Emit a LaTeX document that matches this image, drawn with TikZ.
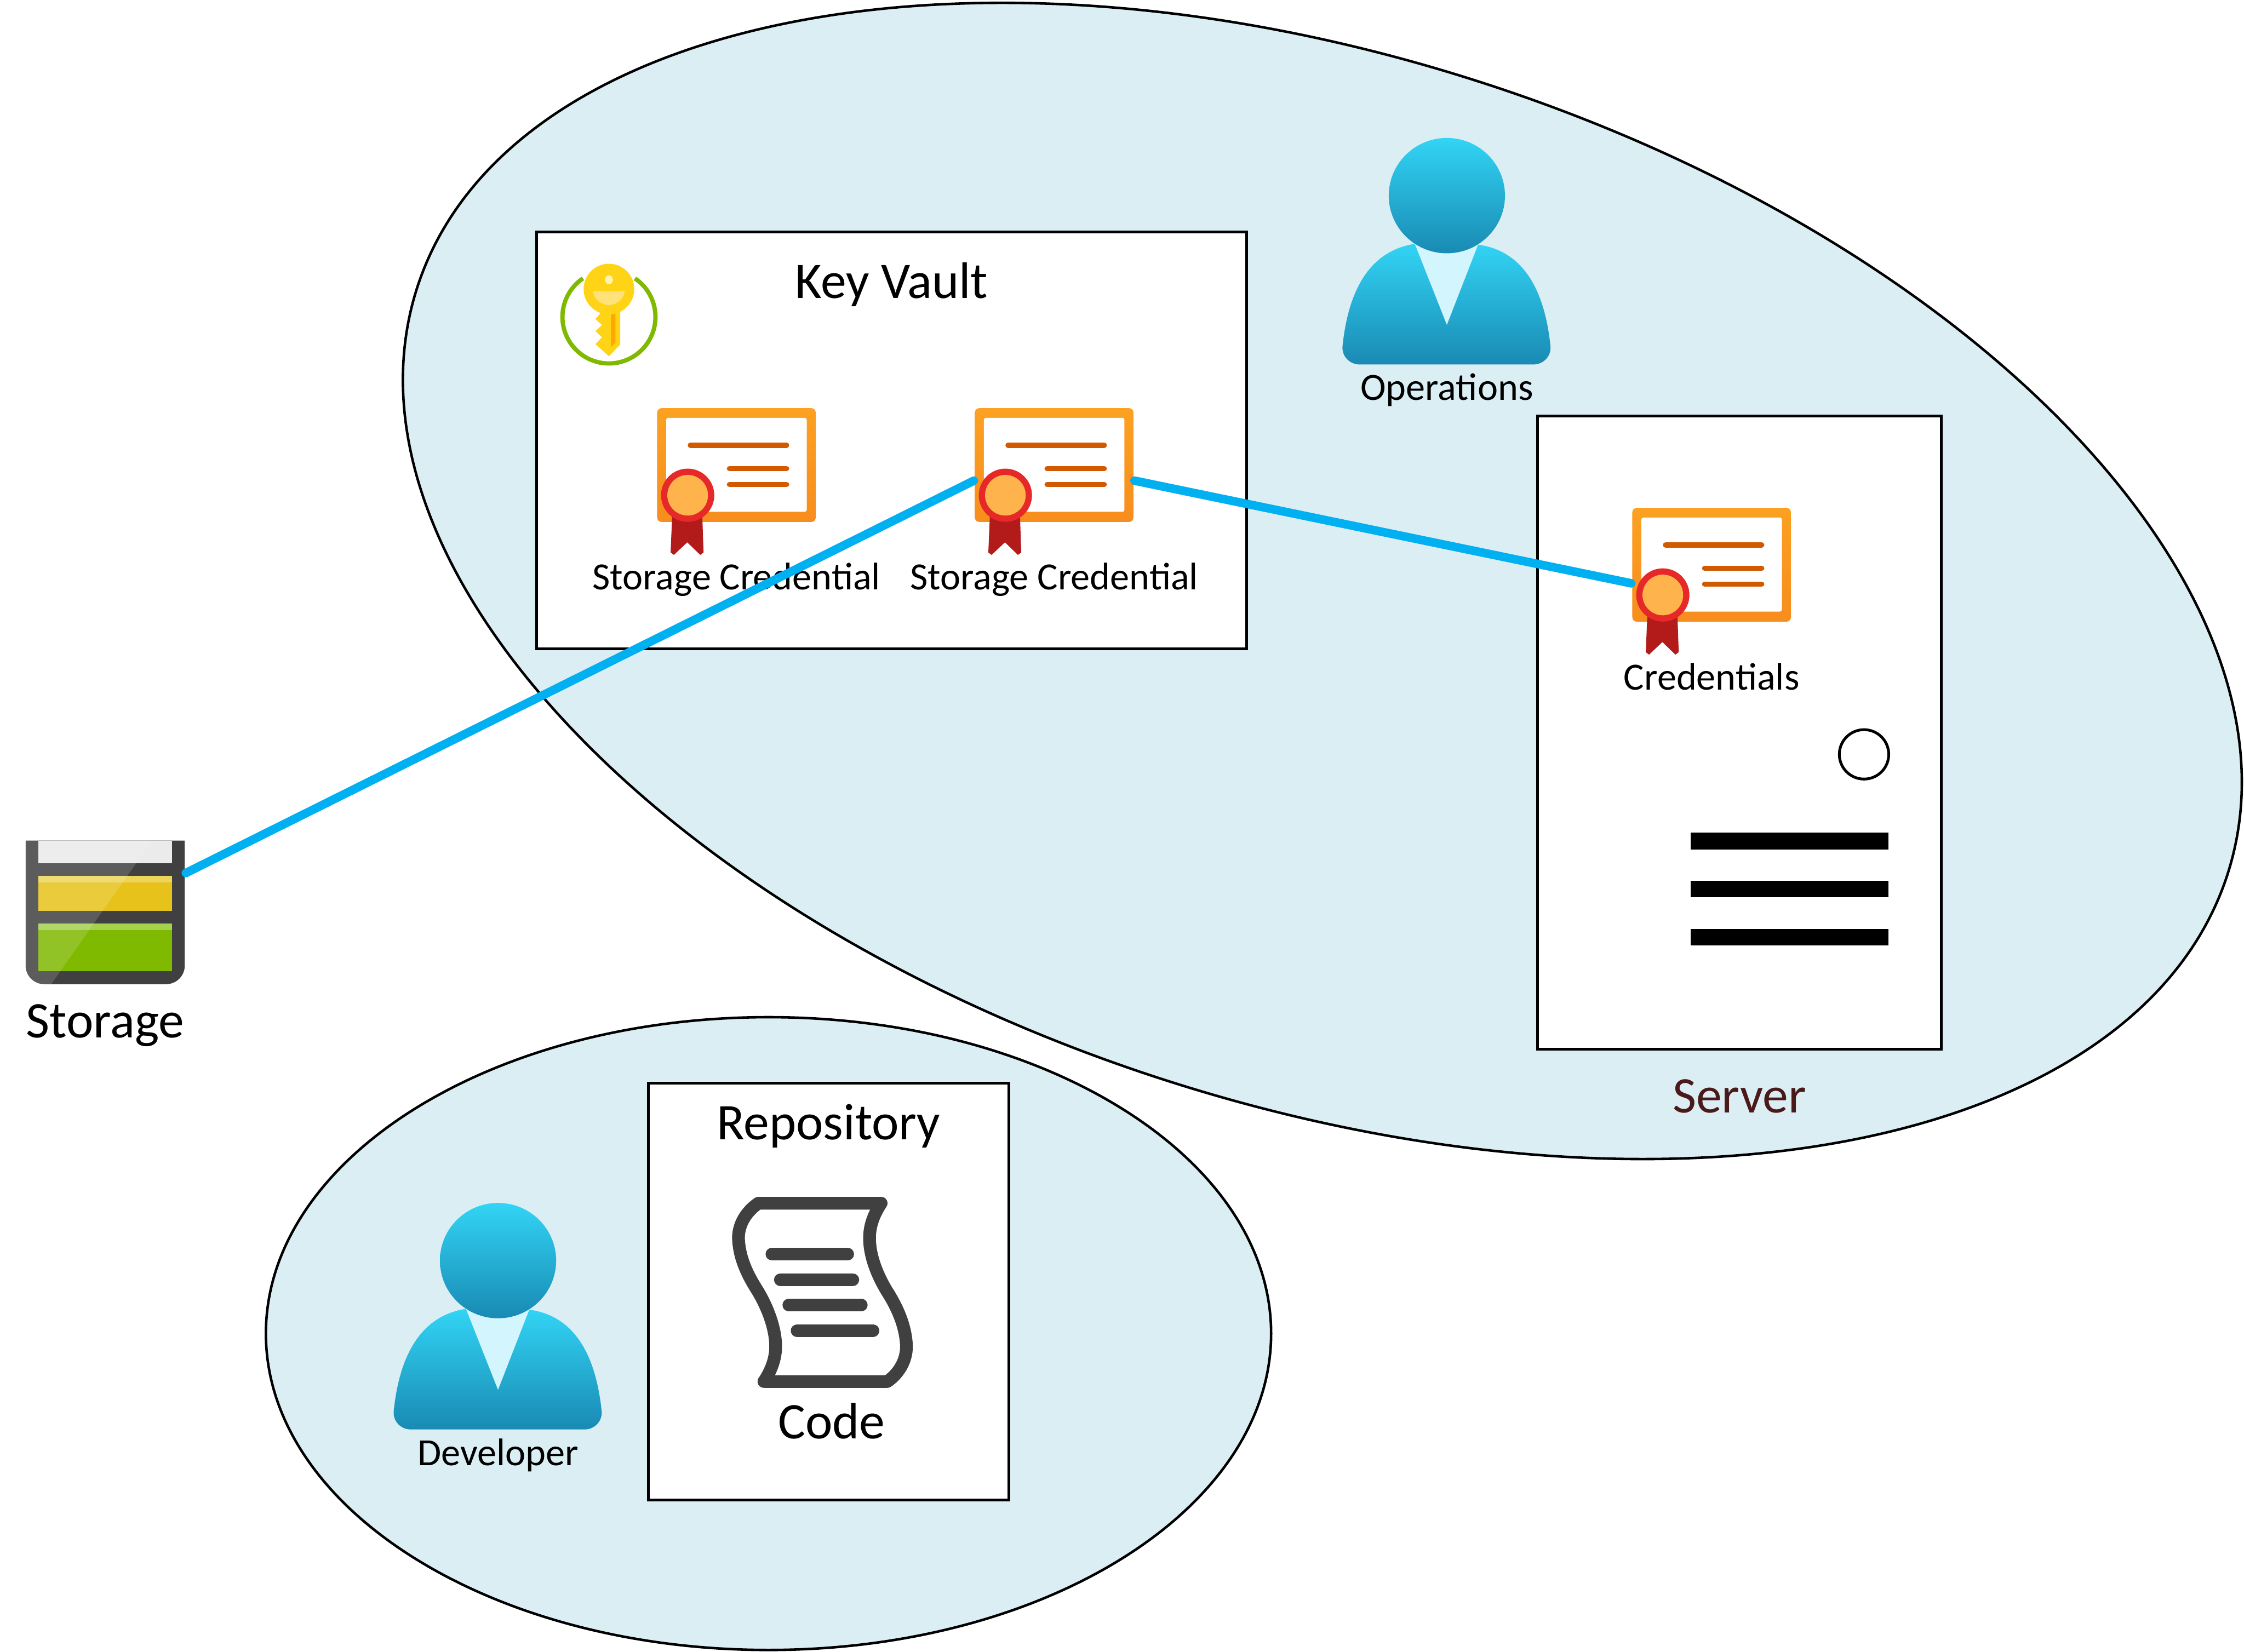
\documentclass[tikz,border=0pt]{standalone}
\usepackage{fontspec}
\setmainfont{Carlito}
\usepackage{tikz}
\usetikzlibrary{
    shapes.geometric
}
\definecolor{zonefill}{HTML}{DBEEF4}
\definecolor{linkblue}{HTML}{00B0F0}
\definecolor{darkgray}{HTML}{404040}
\definecolor{servertext}{HTML}{4A1A1A}
\definecolor{certtop}{HTML}{FCA121}
\definecolor{certbottom}{HTML}{F78D1E}
\definecolor{certline}{HTML}{D15900}
\definecolor{ribbon}{HTML}{B31B1B}
\definecolor{sealring}{HTML}{E62828}
\definecolor{sealfill}{HTML}{FFB34D}
\definecolor{persontop}{HTML}{32D4F5}
\definecolor{personbottom}{HTML}{198AB3}
\definecolor{personneck}{HTML}{D3F5FE}
\definecolor{keyring}{HTML}{7FBA00}
\definecolor{keygold}{HTML}{FFD417}
\definecolor{keystrip}{HTML}{FFA800}
\definecolor{keylight}{HTML}{FFE27A}
\definecolor{keyhole}{HTML}{FFF3B0}
\definecolor{slotgray}{HTML}{EBEBEB}
\definecolor{slotyellow}{HTML}{E6C21B}
\definecolor{slotyellowtop}{HTML}{EDD55C}
\definecolor{slotgreen}{HTML}{7FB900}
\definecolor{slotgreentop}{HTML}{A5D14F}

\begin{document}
\begin{tikzpicture}[
    x=0.01cm,
    y=-0.01cm,
    zone/.style={
        ellipse,
        draw,
        fill=zonefill,
        inner sep=0pt,
        line width=0.5pt
    },
    box/.style={
        rectangle,
        draw,
        fill=white,
        inner sep=0pt,
        line width=0.55pt
    },
    biglabel/.style={
        inner sep=0pt,
        font=\fontsize{10.2}{12}\selectfont
    },
    smalllabel/.style={
        inner sep=0pt,
        font=\fontsize{7.65}{9}\selectfont
    },
    bar/.style={
        rectangle,
        fill=black,
        inner sep=0pt,
        minimum width=1.38cm,
        minimum height=0.115cm
    },
    link/.style={line width=1.7pt, line cap=round, draw=linkblue},
    cert/.pic={
        \node[
            rectangle,
            rounded corners=0.9pt,
            top color=certtop,
            bottom color=certbottom,
            inner sep=0pt,
            minimum width=1.108cm,
            minimum height=0.795cm
        ] (-frame) at (0,0) {};
        \fill[white, rounded corners=0.4pt] (-49.1,-33) rectangle (49.1,32.7);
        \draw[line width=1.05pt, line cap=round, draw=certline]
            (-32.2,-13.9) -- (35,-13.9)
            (-4.9,2.5) -- (35,2.5)
            (-4.9,13.6) -- (35,13.6);
        \fill[ribbon] (-44.9,34.7) -- (-46,61.1) -- (-43.7,62.8) -- (-34.4,54)
            -- (-25.3,62.8) -- (-23,61.1) -- (-23.9,34.7) -- cycle;
        \fill[sealring] (-34.1,21.1) circle[radius=18.6];
        \fill[sealfill] (-34.1,21.1) circle[radius=14.2];
    },
    person/.pic={
        \shade[top color=persontop, bottom color=personbottom]
            (-22.4,33.7) .. controls (-50,38) and (-68,60) .. (-72.8,104.3)
            .. controls (-74,112) and (-68,118) .. (-61,118) -- (60.5,118)
            .. controls (67.5,118) and (73.5,112) .. (72.3,104.3)
            .. controls (67.5,60) and (49.5,38) .. (21.8,34.3) -- cycle;
        \fill[personneck] (-22.4,33.7) -- (0,90.3) -- (21.8,34.3) -- cycle;
        \shade[top color=persontop, bottom color=personbottom]
            (0,0) circle[x radius=40.6, y radius=40.3];
    },
    keyicon/.pic={
        \draw[line width=0.85pt, draw=keyring]
            (0,19.5) ++(-56:32.5) arc[start angle=-56, end angle=236, radius=32.5];
        \fill[keygold] (-5.4,16.3) -- (-9.4,20.9) -- (-4.9,25.2) -- (-9.4,29.4)
            -- (-4.9,33.7) -- (-9.4,38.5) -- (0,47) -- (7.9,38.8) -- (7.9,15.5) -- cycle;
        \fill[keystrip] (1.4,18) -- (4.5,16.7) -- (4.5,37.6) -- (1.4,40.5) -- cycle;
        \fill[keygold] (0,0) circle[radius=17.7];
        \fill[keylight] (-11.1,1.5) -- (11,1.5) .. controls (10.5,7) and (5,11.2) .. (0,11.2)
            .. controls (-5,11.2) and (-10.5,7) .. (-11.1,1.5) -- cycle;
        \fill[keyhole] (0,-6.5) circle[x radius=2.8, y radius=3.1];
    }
]

\useasboundingbox (0,0) rectangle (1568,1154.2);

% Zonas
\node[zone, rotate=-18, minimum width=13.29cm, minimum height=7.31cm] (opszone) at (924,406) {};
\node[zone, minimum width=7.02cm, minimum height=4.42cm] (devzone) at (537,932) {};

% Key Vault
\node[box, minimum width=4.96cm, minimum height=2.91cm] (vault) at (623,307.7) {};
\node[biglabel] (vaulttitle) at (623,199) {Key Vault};
\pic (vaultkey) at (425.5,202) {keyicon};
\pic (credone) at (514.6,325) {cert};
\pic (credtwo) at (736.6,325) {cert};
\node[smalllabel] (credonetext) at (514.6,405) {Storage Credential};
\node[smalllabel] (credtwotext) at (736.6,405) {Storage Credential};

% Operations
\pic (opsperson) at (1011,136.7) {person};
\node[smalllabel] (opstext) at (1011,272.5) {Operations};

% Server
\node[box, minimum width=2.82cm, minimum height=4.42cm] (server) at (1215.5,512) {};
\pic (credsrv) at (1196,394.7) {cert};
\node[smalllabel] (credsrvtext) at (1196,473) {Credentials};
\node[circle, draw, fill=white, inner sep=0pt, minimum size=0.345cm, line width=0.55pt] (power) at (1302.5,527.2) {};
\node[bar] (barone) at (1250.5,587.8) {};
\node[bar] (bartwo) at (1250.5,621.3) {};
\node[bar] (barthree) at (1250.5,654.8) {};
\node[biglabel, text=servertext] (servertitle) at (1215.5,766.3) {Server};

% Storage
\node[rectangle, inner sep=0pt, minimum width=1.113cm, minimum height=1.003cm] (storage) at (73.5,637.6) {};
\fill[darkgray] (17.9,587.5) -- (129.1,587.5) -- (129.1,674.8)
    arc[start angle=0, end angle=90, radius=13] -- (30.9,687.8)
    arc[start angle=90, end angle=180, radius=13] -- cycle;
\fill[slotgray] (26.9,587.5) rectangle (120.3,603.2);
\fill[slotyellow] (26.9,612) rectangle (120.3,636.5);
\fill[slotyellowtop] (26.9,612) rectangle (120.3,616.7);
\fill[slotgreen] (26.9,645.4) rectangle (120.3,678.8);
\fill[slotgreentop] (26.9,645.4) rectangle (120.3,650);
\begin{scope}
    \clip (17.9,587.5) -- (129.1,587.5) -- (129.1,674.8)
        arc[start angle=0, end angle=90, radius=13] -- (30.9,687.8)
        arc[start angle=90, end angle=180, radius=13] -- cycle;
    \fill[white, opacity=0.15] (17.9,587.5) -- (106.2,587.5) -- (35.8,687.8) -- (17.9,687.8) -- cycle;
\end{scope}
\node[biglabel] (storagetext) at (73.5,716.5) {Storage};

% Repository
\pic (devperson) at (348,881) {person};
\node[smalllabel] (devtext) at (348,1017) {Developer};
\node[box, minimum width=2.52cm, minimum height=2.91cm] (repo) at (579,902.7) {};
\node[biglabel] (repotitle) at (579,787) {Repository};
\draw[line width=2.53pt, line join=round, draw=darkgray, fill=white]
    (529.9,840.9) .. controls (521,847) and (516,856) .. (516,865.2)
    .. controls (516.5,880) and (523,892) .. (529.3,902)
    .. controls (536,913) and (542,928) .. (542,941.1)
    .. controls (542,950) and (538.5,958.5) .. (533.8,965.5) -- (620,965.5)
    .. controls (628,960) and (633.4,951) .. (633.4,941.1)
    .. controls (633,926) and (626,912) .. (619.5,902)
    .. controls (613,891) and (607.6,878) .. (607.6,865.2)
    .. controls (607.6,856) and (611,848) .. (615.7,840.9) -- cycle;
\draw[line width=2.53pt, line cap=round, draw=darkgray]
    (539.4,876.5) -- (592.3,876.5)
    (545.3,894.3) -- (595.9,894.3)
    (551.2,912.1) -- (601.8,912.1)
    (557,929.9) -- (610,929.9);
\node[biglabel] (codetext) at (581,993) {Code};

% Conexiones
\draw[link] (storage.26) -- (credtwo-frame.191);
\draw[link] (credtwo-frame.349) -- (credsrv-frame.193);

\end{tikzpicture}
\end{document}
